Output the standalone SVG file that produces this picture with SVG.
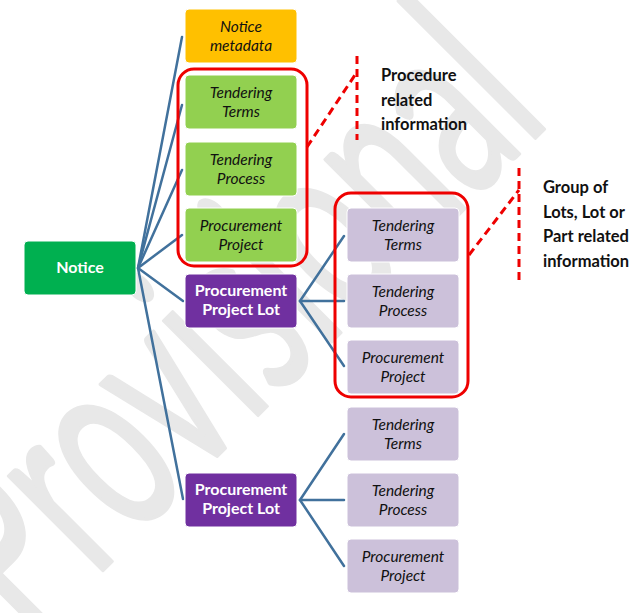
<svg xmlns="http://www.w3.org/2000/svg" width="642" height="613" viewBox="0 0 642 613">
<style>
.box{stroke:#ffffff;stroke-width:1}
.meta{fill:#FFC000}
.proc{fill:#92D050}
.notice{fill:#00B050}
.lot{fill:#7030A0}
.sub{fill:#CCC1DA}
.it{font-family:Lato,"Open Sans",sans-serif;font-style:italic;font-size:15.5px;fill:#111111;text-anchor:middle}
.bw{font-family:Lato,"Open Sans",sans-serif;font-weight:bold;font-size:16px;fill:#ffffff;text-anchor:middle}
.lbl{font-family:Lato,"Open Sans",sans-serif;font-weight:bold;font-size:16.5px;fill:#111111}
.conn{stroke:#41719C;stroke-width:2.5;fill:none;stroke-linecap:round}
.grp{fill:none;stroke:#EE0000;stroke-width:3}
.dash{fill:none;stroke:#EE0000;stroke-width:3;stroke-dasharray:8,5}
.wm{font-family:Lato,"Open Sans",sans-serif;font-size:166px;fill:#E8E8E8;stroke:#E8E8E8;stroke-width:2.5;stroke-linejoin:round}
</style>
<g id="watermark">
<text class="wm" transform="translate(30,643) rotate(-45) scale(1,1.58)" textLength="739" lengthAdjust="spacingAndGlyphs">Provisional</text>
</g>
<g id="connectors">
<line class="conn" x1="138" y1="268" x2="182" y2="37"/>
<line class="conn" x1="138" y1="268" x2="182" y2="105"/>
<line class="conn" x1="138" y1="268" x2="182" y2="170"/>
<line class="conn" x1="138" y1="268" x2="182" y2="235"/>
<line class="conn" x1="138" y1="268" x2="183" y2="301"/>
<line class="conn" x1="138" y1="268" x2="183" y2="499"/>
<line class="conn" x1="300" y1="301" x2="344" y2="236"/>
<line class="conn" x1="300" y1="301" x2="344" y2="301"/>
<line class="conn" x1="300" y1="301" x2="344" y2="366"/>
<line class="conn" x1="300" y1="500" x2="344" y2="434"/>
<line class="conn" x1="300" y1="500" x2="344" y2="500"/>
<line class="conn" x1="300" y1="500" x2="344" y2="566"/>
</g>
<g id="notice">
<rect class="box notice" x="24" y="241" width="112" height="54" rx="4"/>
<text class="bw" x="80" y="273">Notice</text>
</g>
<g id="notice-metadata">
<rect class="box meta" x="185" y="9" width="112" height="54" rx="4"/>
<text class="it" x="241" y="31.5">Notice</text>
<text class="it" x="241" y="51">metadata</text>
</g>
<g id="tendering-terms">
<rect class="box proc" x="185" y="75" width="112" height="54" rx="4"/>
<text class="it" x="241" y="97.5">Tendering</text>
<text class="it" x="241" y="117">Terms</text>
</g>
<g id="tendering-process">
<rect class="box proc" x="185" y="142" width="112" height="54" rx="4"/>
<text class="it" x="241" y="164.5">Tendering</text>
<text class="it" x="241" y="184">Process</text>
</g>
<g id="procurement-project">
<rect class="box proc" x="185" y="208" width="112" height="54" rx="4"/>
<text class="it" x="241" y="230.5">Procurement</text>
<text class="it" x="241" y="250">Project</text>
</g>
<g id="lot1">
<rect class="box lot" x="185" y="274" width="112" height="54" rx="4"/>
<text class="bw" x="241" y="296">Procurement</text>
<text class="bw" x="241" y="315">Project Lot</text>
</g>
<g id="lot2">
<rect class="box lot" x="185" y="473" width="112" height="54" rx="4"/>
<text class="bw" x="241" y="495">Procurement</text>
<text class="bw" x="241" y="514">Project Lot</text>
</g>
<g id="lot1-terms">
<rect class="box sub" x="347" y="208" width="112" height="54" rx="4"/>
<text class="it" x="403" y="230.5">Tendering</text>
<text class="it" x="403" y="250">Terms</text>
</g>
<g id="lot1-process">
<rect class="box sub" x="347" y="274" width="112" height="54" rx="4"/>
<text class="it" x="403" y="296.5">Tendering</text>
<text class="it" x="403" y="316">Process</text>
</g>
<g id="lot1-project">
<rect class="box sub" x="347" y="340" width="112" height="54" rx="4"/>
<text class="it" x="403" y="362.5">Procurement</text>
<text class="it" x="403" y="382">Project</text>
</g>
<g id="lot2-terms">
<rect class="box sub" x="347" y="407" width="112" height="54" rx="4"/>
<text class="it" x="403" y="429.5">Tendering</text>
<text class="it" x="403" y="449">Terms</text>
</g>
<g id="lot2-process">
<rect class="box sub" x="347" y="473" width="112" height="54" rx="4"/>
<text class="it" x="403" y="495.5">Tendering</text>
<text class="it" x="403" y="515">Process</text>
</g>
<g id="lot2-project">
<rect class="box sub" x="347" y="539" width="112" height="54" rx="4"/>
<text class="it" x="403" y="561.5">Procurement</text>
<text class="it" x="403" y="581">Project</text>
</g>
<g id="procedure-group">
<rect class="grp" x="178" y="69" width="129" height="197" rx="16"/>
<path class="dash" d="M307,147 L357,72"/>
<path class="dash" d="M357,56 L357,140"/>
<text class="lbl" x="381" y="81">Procedure</text>
<text class="lbl" x="381" y="105.5">related</text>
<text class="lbl" x="381" y="130">information</text>
</g>
<g id="lot-group">
<rect class="grp" x="335" y="193" width="133" height="204" rx="16"/>
<path class="dash" d="M469,255 L519,190"/>
<path class="dash" d="M519,168 L519,280"/>
<text class="lbl" x="543" y="193">Group of</text>
<text class="lbl" x="543" y="217.5">Lots, Lot or</text>
<text class="lbl" x="543" y="242">Part related</text>
<text class="lbl" x="543" y="266.5">information</text>
</g>
</svg>
